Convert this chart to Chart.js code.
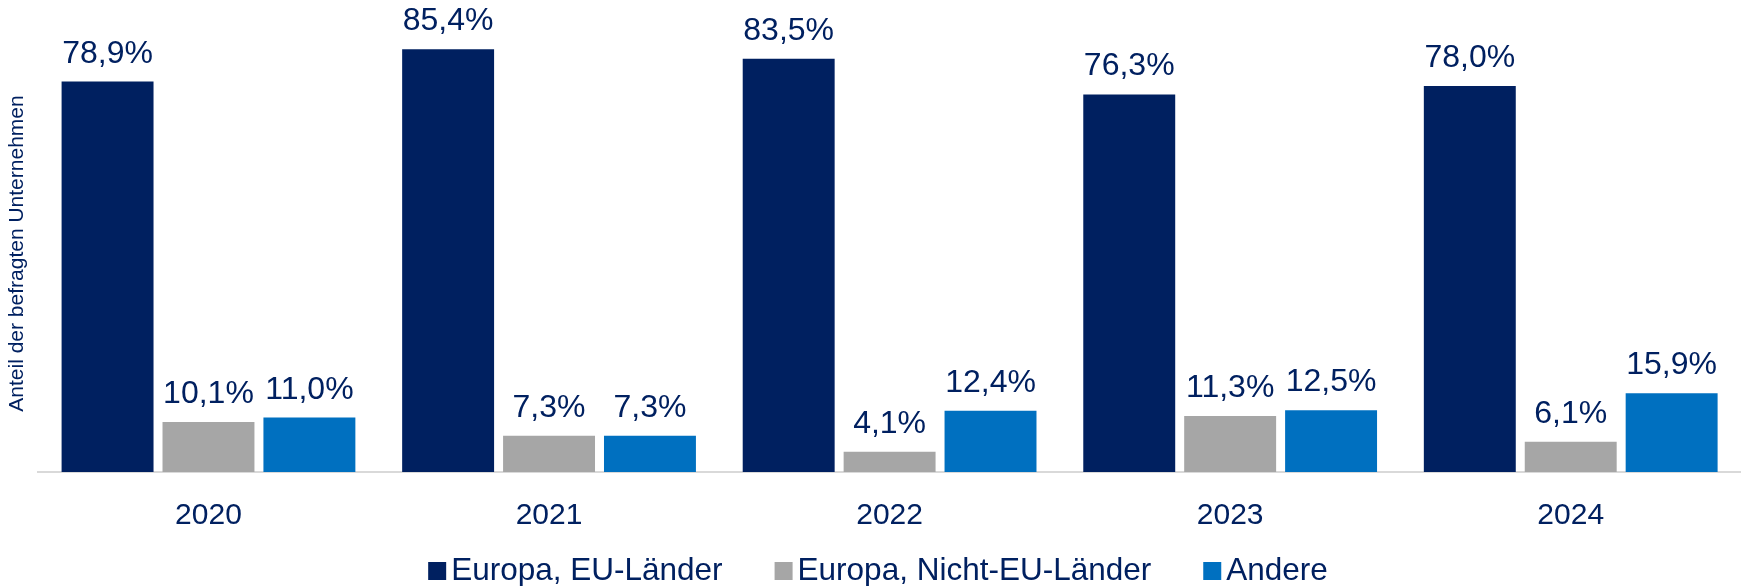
<!DOCTYPE html>
<html>
<head>
<meta charset="utf-8">
<script src="https://cdn.jsdelivr.net/npm/chart.js@4.4.1/dist/chart.umd.min.js"></script>
<style>
body { margin: 0; background: #fff; }
#wrap { width: 1741px; height: 586px; }
</style>
</head>
<body>
<div id="wrap"><canvas id="regionChart"></canvas></div>
<script>
const years = ['2020', '2021', '2022', '2023', '2024'];
const euLaender = [78.9, 85.4, 83.5, 76.3, 78.0];
const nichtEuLaender = [10.1, 7.3, 4.1, 11.3, 6.1];
const andere = [11.0, 7.3, 12.4, 12.5, 15.9];
const seriesNames = ['Europa, EU-Länder', 'Europa, Nicht-EU-Länder', 'Andere'];
const seriesColors = ['#002060', '#A6A6A6', '#0070C0'];

const navy = '#002060';
const fontFamily = "'Liberation Sans', Arial, sans-serif";

// value labels above the bars, with German decimal comma
const valueLabels = {
    id: 'valueLabels',
    afterDatasetsDraw(chart) {
        const ctx = chart.ctx;
        ctx.save();
        ctx.font = '32px ' + fontFamily;
        ctx.fillStyle = navy;
        ctx.textAlign = 'center';
        ctx.textBaseline = 'alphabetic';
        chart.data.datasets.forEach((ds, i) => {
            chart.getDatasetMeta(i).data.forEach((bar, j) => {
                const txt = ds.data[j].toFixed(1).replace('.', ',') + '%';
                ctx.fillText(txt, bar.x, bar.y - 19);
            });
        });
        ctx.restore();
    }
};

// legend row at the bottom, squares sit close to their text
const legendRow = {
    id: 'legendRow',
    afterDraw(chart) {
        const ctx = chart.ctx;
        const box = 18, gap = 5, spacing = 52, baseY = 580;
        ctx.save();
        ctx.font = '31.5px ' + fontFamily;
        ctx.textBaseline = 'alphabetic';
        const widths = chart.data.datasets.map(ds => box + gap + ctx.measureText(ds.label).width);
        const total = widths.reduce((a, b) => a + b, 0) + spacing * (widths.length - 1);
        let x = 878 - total / 2;
        chart.data.datasets.forEach((ds, i) => {
            ctx.fillStyle = ds.backgroundColor;
            ctx.fillRect(x, baseY - box, box, box);
            ctx.fillStyle = navy;
            ctx.fillText(ds.label, x + box + gap, baseY);
            x += widths[i] + spacing;
        });
        ctx.restore();
    }
};

const ctx = document.getElementById('regionChart').getContext('2d');
new Chart(ctx, {
    type: 'bar',
    data: {
        labels: years,
        datasets: [euLaender, nichtEuLaender, andere].map((values, i) => ({
            label: seriesNames[i],
            data: values,
            backgroundColor: seriesColors[i],
            categoryPercentage: 0.889,
            barPercentage: 0.911
        }))
    },
    options: {
        responsive: true,
        maintainAspectRatio: false,
        animation: false,
        layout: { padding: { left: -3, right: 0, top: 35, bottom: 26 } },
        plugins: {
            legend: { display: false },
            tooltip: { enabled: false }
        },
        scales: {
            x: {
                grid: { display: false, drawTicks: false },
                border: { display: true, color: '#D9D9D9', width: 2 },
                ticks: { color: navy, font: { family: fontFamily, size: 30 }, padding: 26 }
            },
            y: {
                min: 0,
                max: 88.3,
                ticks: { display: false },
                grid: { display: false },
                border: { display: false },
                title: {
                    display: true,
                    text: 'Anteil der befragten Unternehmen',
                    color: navy,
                    font: { family: fontFamily, size: 21 },
                    padding: { top: 8, bottom: 0 }
                }
            }
        }
    },
    plugins: [valueLabels, legendRow]
});
</script>
</body>
</html>
